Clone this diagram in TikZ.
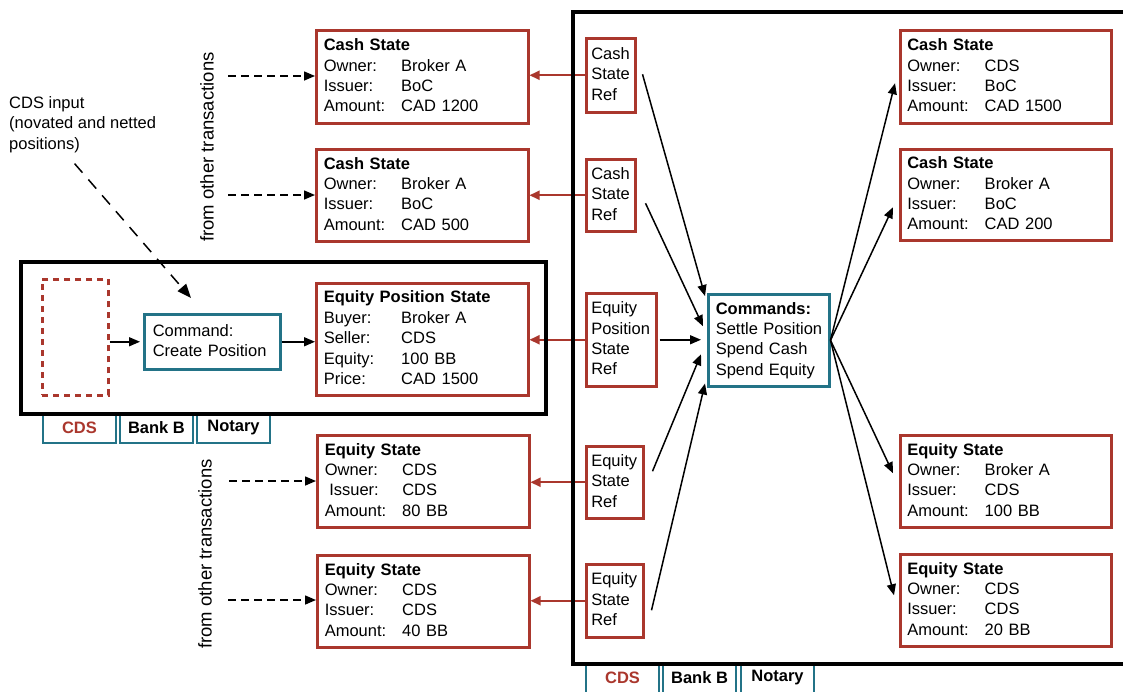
\documentclass[tikz,border=0pt]{standalone}
\usepackage{fontspec}
\setmainfont{Liberation Sans}
\usetikzlibrary{arrows.meta,calc}
\definecolor{cred}{RGB}{170,55,45}
\definecolor{cteal}{RGB}{35,115,135}
\newcommand\kv[2]{\makebox[77.5pt][l]{#1}#2}
\begin{document}
\begin{tikzpicture}[x=1pt,y=-1pt,
 every node/.style={font=\fontsize{16.5}{20.4}\selectfont},
 sbox/.style={draw=cred, line width=2.5pt, fill=white, anchor=north west, align=left, inner xsep=7.5pt, inner ysep=0pt, text height=14pt},
 tbox/.style={sbox, draw=cteal},
 ltwo/.style={text depth=25.4pt}, lthree/.style={text depth=45.8pt},
 lfour/.style={text depth=66.2pt}, lfive/.style={text depth=86.6pt},
 widebox/.style={minimum width=212pt, text width=197pt},
 refbox/.style={sbox, inner xsep=5pt},
 bigframe/.style={draw=black, line width=4pt, anchor=north west, inner sep=0pt},
 tabbox/.style={draw=cteal, line width=2.5pt, fill=white, minimum width=73pt, minimum height=30pt, inner sep=0pt, font=\fontsize{16.5}{20}\selectfont\bfseries},
 arr/.style={line width=1.5pt, -{Triangle[length=11pt,width=9pt]}},
 darr/.style={arr, dash pattern=on 8pt off 5pt},
 rarr/.style={draw=cred, line width=2pt, -{Triangle[length=10pt,width=9pt]}, cred}
]
\useasboundingbox (0,0) rectangle (1123,691);

% ---- left boxes ----
\node[sbox, widebox, lfour, minimum height=93pt] (cs1) at (315,29)
 {\textbf{Cash State}\\\kv{Owner:}{Broker A}\\\kv{Issuer:}{BoC}\\\kv{Amount:}{CAD 1200}};
\node[sbox, widebox, lfour, minimum height=92pt] (cs2) at (315,148)
 {\textbf{Cash State}\\\kv{Owner:}{Broker A}\\\kv{Issuer:}{BoC}\\\kv{Amount:}{CAD 500}};
\node[sbox, widebox, lfive, minimum height=112pt] (eqp) at (315,282)
 {\textbf{Equity Position State}\\\kv{Buyer:}{Broker A}\\\kv{Seller:}{CDS}\\\kv{Equity:}{100 BB}\\\kv{Price:}{CAD 1500}};
\node[sbox, widebox, lfour, minimum height=92pt] (es1) at (316,434)
 {\textbf{Equity State}\\\kv{Owner:}{CDS}\\\kv{\hspace{4.5pt}Issuer:}{CDS}\\\kv{Amount:}{80 BB}};
\node[sbox, widebox, lfour, minimum height=92pt] (es2) at (316,554)
 {\textbf{Equity State}\\\kv{Owner:}{CDS}\\\kv{Issuer:}{CDS}\\\kv{Amount:}{40 BB}};

\node[tbox, ltwo, inner xsep=8.5pt, minimum width=136pt, text width=119pt, minimum height=55pt] (cmdL) at (143,313)
 {Command:\\\mbox{Create Position}};
\node[draw=cred, line width=2.5pt, dash pattern=on 6pt off 5pt, minimum width=66pt, minimum height=116pt, anchor=north west, inner sep=0pt] (dr) at (41,278) {};

% ---- reference boxes ----
\node[refbox, lthree, minimum width=49pt, text width=39pt, minimum height=74pt] (cref1) at (585,37) {Cash\\State\\Ref};
\node[refbox, lthree, minimum width=49pt, text width=39pt, minimum height=72pt] (cref2) at (585,158) {Cash\\State\\Ref};
\node[refbox, lfour, minimum width=70pt, text width=60pt, minimum height=93pt] (eref) at (585,292) {Equity\\\mbox{Position}\\State\\Ref};
\node[refbox, lthree, minimum width=57pt, text width=47pt, minimum height=72pt] (eref1) at (585,445) {Equity\\State\\Ref};
\node[refbox, lthree, minimum width=57pt, text width=47pt, minimum height=73pt] (eref2) at (585,563) {Equity\\State\\Ref};

\node[tbox, lfour, minimum width=121pt, text width=106pt, minimum height=92pt] (cmd) at (707,293)
 {\textbf{Commands:}\\\mbox{Settle Position}\\\mbox{Spend Cash}\\\mbox{Spend Equity}};

% ---- right boxes ----
\node[sbox, lfour, inner xsep=7pt, minimum width=211pt, text width=197pt, minimum height=93pt] (rc1) at (899,29)
 {\textbf{Cash State}\\\kv{Owner:}{CDS}\\\kv{Issuer:}{BoC}\\\kv{Amount:}{CAD 1500}};
\node[sbox, lfour, inner xsep=7pt, minimum width=211pt, text width=197pt, minimum height=91pt] (rc2) at (899,148)
 {\textbf{Cash State}\\\kv{Owner:}{Broker A}\\\kv{Issuer:}{BoC}\\\kv{Amount:}{CAD 200}};
\node[sbox, lfour, inner xsep=7pt, minimum width=211pt, text width=197pt, minimum height=92pt] (re1) at (899,434)
 {\textbf{Equity State}\\\kv{Owner:}{Broker A}\\\kv{Issuer:}{CDS}\\\kv{Amount:}{100 BB}};
\node[sbox, lfour, inner xsep=7pt, minimum width=211pt, text width=197pt, minimum height=92pt] (re2) at (899,553)
 {\textbf{Equity State}\\\kv{Owner:}{CDS}\\\kv{Issuer:}{CDS}\\\kv{Amount:}{20 BB}};

% ---- free texts ----
\node[anchor=base west, align=left, inner sep=0pt] (cdsin) at (9,149) {CDS input\\(novated and netted\\positions)};
\node[rotate=90, inner sep=0pt, font=\fontsize{18.5}{22}\selectfont] (fot1) at (207,147) {from other transactions};
\node[rotate=90, inner sep=0pt, font=\fontsize{18.5}{22}\selectfont] (fot2) at (205,554) {from other transactions};

% ---- red connectors ----
\draw[rarr] (cref1.west) -- (cref1.west -| cs1.east);
\draw[rarr] (cref2.west) -- (cref2.west -| cs2.east);
\draw[rarr] (eref.west) -- (eref.west -| eqp.east);
\draw[rarr] (eref1.west) -- (eref1.west -| es1.east);
\draw[rarr] (eref2.west) -- (eref2.west -| es2.east);

% ---- tabs and frames ----
\node[tabbox, text=cred] (lt1) at (79.5,428) {CDS};
\node[tabbox] (lt2) at (156.5,428) {Bank B};
\node[tabbox] (lt3) at (233.5,428) {Notary};
\node[tabbox, text=cred] (rt1) at (622.5,678) {CDS};
\node[tabbox] (rt2) at (699.5,678) {Bank B};
\node[tabbox] (rt3) at (777.5,678) {Notary};
\node[bigframe, minimum width=525pt, minimum height=152pt] (lf) at (19,260) {};
\node[bigframe, minimum width=570pt, minimum height=652pt] (rf) at (571,10) {};

% ---- black arrows ----
\draw[arr] (dr.east |- cmdL.west) -- ([xshift=-3pt]cmdL.west);
\draw[arr] (cmdL.east) -- (cmdL.east -| eqp.west);
\coordinate (cdstip) at (191,298);
\draw[line width=1.5pt, dash pattern=on 12pt off 9pt, -{Triangle[length=14pt,width=11pt]}] ([shift={(-8,11)}]cdsin.south) -- (cdstip);

\coordinate (o1) at (228,76);
\coordinate (o2) at (228,195);
\coordinate (o3) at (229,481);
\coordinate (o4) at (228,600);
\draw[darr] (o1) -- (o1 -| cs1.west);
\draw[darr] (o2) -- (o2 -| cs2.west);
\draw[darr] (o3) -- (o3 -| es1.west);
\draw[darr] (o4) -- (o4 -| es2.west);

\draw[arr] ([shift={(6,-1)}]cref1.east) -- ([shift={(-2,3)}]cmd.north west);
\draw[arr] ([shift={(9,8)}]cref2.east) -- ([shift={(-4,-14)}]cmd.west);
\draw[arr] ([xshift=2pt]eref.east) -- ([xshift=-6pt]eref.east -| cmd.west);
\draw[arr] ([shift={(8,-11)}]eref1.east) -- ([shift={(-6,14)}]cmd.west);
\draw[arr] ([shift={(7,9.5)}]eref2.east) -- ([shift={(-2,-4)}]cmd.south west);

\draw[arr] (cmd.east) -- ([shift={(-4,6.5)}]rc1.west);
\draw[arr] (cmd.east) -- ([shift={(-6,12.5)}]rc2.west);
\draw[arr] (cmd.east) -- ([shift={(-6,-8)}]re1.west);
\draw[arr] (cmd.east) -- ([shift={(-5,-5)}]re2.west);
\end{tikzpicture}
\end{document}
